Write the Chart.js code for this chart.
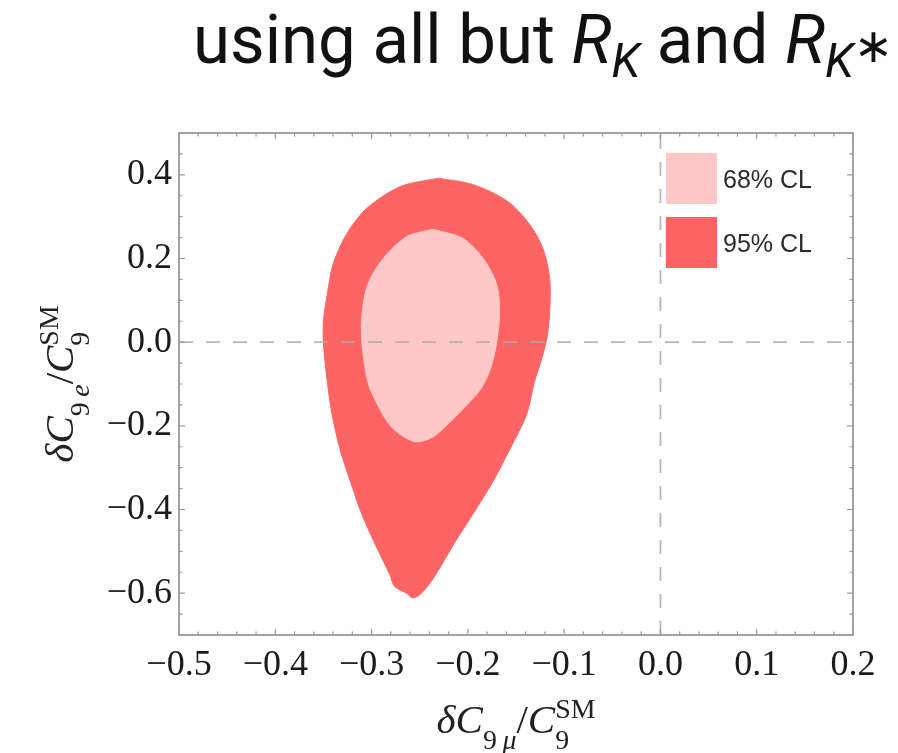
<!DOCTYPE html>
<html>
<head>
<meta charset="utf-8">
<script src="https://cdn.jsdelivr.net/npm/chart.js@4.4.0/dist/chart.umd.min.js"></script>
<style>
  html, body { margin: 0; padding: 0; background: #fff; }
</style>
</head>
<body>
<canvas id="chart" width="898" height="753"></canvas>
<script>
// Zakres osi i etykiety
const xRange = [-0.5, 0.2];
const yRange = [-0.7, 0.5];
const xTicks = [-0.5, -0.4, -0.3, -0.2, -0.1, 0.0, 0.1, 0.2];
const yTicks = [-0.6, -0.4, -0.2, 0.0, 0.2, 0.4];
const legendLabels = ['68% CL', '95% CL'];

// Kontur 95% CL
const cl95X = [-0.231, -0.195, -0.159, -0.136, -0.122, -0.115, -0.115, -0.118, -0.125, -0.131,
  -0.139, -0.156, -0.174, -0.195, -0.215, -0.236, -0.250, -0.258, -0.263, -0.276,
  -0.281, -0.294, -0.310, -0.322, -0.333, -0.341, -0.346, -0.350, -0.350, -0.346,
  -0.340, -0.326, -0.305, -0.270];
const cl95Y = [0.392, 0.377, 0.337, 0.282, 0.224, 0.152, 0.073, 0.009, -0.053, -0.096,
  -0.173, -0.254, -0.333, -0.412, -0.484, -0.565, -0.604, -0.611, -0.601, -0.584,
  -0.556, -0.494, -0.412, -0.333, -0.254, -0.173, -0.094, -0.003, 0.050, 0.114,
  0.186, 0.258, 0.320, 0.372];

// Kontur 68% CL
const cl68X = [-0.236, -0.205, -0.184, -0.170, -0.167, -0.170, -0.176, -0.186, -0.201, -0.219,
  -0.236, -0.255, -0.278, -0.294, -0.304, -0.310, -0.310, -0.304, -0.288, -0.263];
const cl68Y = [0.270, 0.248, 0.200, 0.138, 0.073, 0.000, -0.060, -0.110, -0.150, -0.192,
  -0.226, -0.238, -0.206, -0.149, -0.094, -0.003, 0.066, 0.138, 0.200, 0.253];

const color68 = '#ffc8c8';
const color95 = '#ff6464';

// Zamknięta ścieżka z dwóch tablic
function closedPath(xs, ys) {
  const pts = xs.map((x, i) => ({ x: x, y: ys[i] }));
  pts.push({ x: xs[0], y: ys[0] });
  return pts;
}

function fmtTick(v) {
  return Number(v).toFixed(1).replace('-', '\u2212');
}

// Tekst z indeksami dolnymi / górnymi
function layoutRich(ctx, parts, size, family) {
  let x = 0, prevStart = 0;
  const items = [];
  for (const p of parts) {
    const small = p.sub || p.sup;
    const s = size * (p.scale || (small ? 0.68 : 1));
    const font = (p.it ? 'italic ' : '') + s + 'px ' + family;
    ctx.font = font;
    const w = ctx.measureText(p.t).width;
    let start = x;
    if (p.over) {
      start = prevStart;
      x = Math.max(x, start + w);
    } else {
      prevStart = x;
      x += w;
    }
    let dy = p.sub ? 0.38 * size : p.sup ? -0.36 * size : 0;
    if (p.dy !== undefined) dy = p.dy * size;
    items.push({ t: p.t, font: font, x: start, dy: dy });
  }
  return { items: items, width: x };
}

function drawRich(ctx, lay, x0, y0) {
  ctx.textBaseline = 'alphabetic';
  ctx.textAlign = 'left';
  lay.items.forEach(it => {
    ctx.font = it.font;
    ctx.fillText(it.t, x0 + it.x, y0 + it.dy);
  });
}

const titleParts = [
  { t: 'using all but ' },
  { t: 'R', it: true },
  { t: 'K', it: true, scale: 0.7, dy: 0.2 },
  { t: ' and ' },
  { t: 'R', it: true },
  { t: 'K', it: true, scale: 0.7, dy: 0.2 },
  { t: '\u2217', scale: 0.7, dy: -0.02 }
];
const xTitleParts = [
  { t: '\u03B4', it: true }, { t: 'C', it: true },
  { t: '9', sub: true }, { t: '\u2009', sub: true }, { t: '\u03BC', it: true, sub: true },
  { t: '/' }, { t: 'C', it: true },
  { t: '9', sub: true }, { t: 'SM', sup: true, over: true }
];
const yTitleParts = [
  { t: '\u03B4', it: true }, { t: 'C', it: true },
  { t: '9', sub: true }, { t: '\u2009', sub: true }, { t: 'e', it: true, sub: true },
  { t: '/' }, { t: 'C', it: true },
  { t: '9', sub: true }, { t: 'SM', sup: true, over: true }
];

// Ramka, znaczniki, linie zerowe, legenda, tytuły
const decorPlugin = {
  id: 'decor',
  afterDatasetsDraw(chart) {
    const ctx = chart.ctx;
    const a = chart.chartArea;
    const xs = chart.scales.x, ys = chart.scales.y;
    ctx.save();

    // linie przerywane w zerze
    ctx.strokeStyle = 'rgba(170,170,170,0.85)';
    ctx.lineWidth = 1.8;
    ctx.setLineDash([14, 13]);
    const x0 = xs.getPixelForValue(0), y0 = ys.getPixelForValue(0);
    ctx.beginPath();
    ctx.moveTo(a.left, y0); ctx.lineTo(a.right, y0);
    ctx.moveTo(x0, a.bottom); ctx.lineTo(x0, a.top);
    ctx.stroke();
    ctx.setLineDash([]);

    // ramka
    ctx.strokeStyle = '#9a9a9a';
    ctx.lineWidth = 1.8;
    ctx.strokeRect(a.left, a.top, a.right - a.left, a.bottom - a.top);

    // znaczniki do wewnątrz
    ctx.lineWidth = 1.2;
    ctx.beginPath();
    for (let i = 0; i <= 35; i++) {
      const v = xRange[0] + i * 0.02;
      const px = xs.getPixelForValue(v);
      const len = i % 5 === 0 ? 6 : 3.5;
      ctx.moveTo(px, a.bottom); ctx.lineTo(px, a.bottom - len);
      ctx.moveTo(px, a.top); ctx.lineTo(px, a.top + len);
    }
    for (let i = 0; i <= 24; i++) {
      const v = yRange[0] + i * 0.05;
      const py = ys.getPixelForValue(v);
      const len = (i + 2) % 4 === 0 ? 6 : 3.5;
      ctx.moveTo(a.left, py); ctx.lineTo(a.left + len, py);
      ctx.moveTo(a.right, py); ctx.lineTo(a.right - len, py);
    }
    ctx.stroke();

    // legenda
    const swatch = [color68, color95];
    legendLabels.forEach((lab, i) => {
      const sx = a.right - 187, sy = a.top + 20 + i * 64;
      ctx.fillStyle = swatch[i];
      ctx.fillRect(sx, sy, 51, 51);
      ctx.fillStyle = '#2a2a2a';
      ctx.font = '25px "Liberation Sans", Arial, sans-serif';
      ctx.textBaseline = 'middle';
      ctx.textAlign = 'left';
      ctx.fillText(lab, sx + 57, sy + 28);
    });

    // tytuł
    ctx.fillStyle = '#111';
    const tl = layoutRich(ctx, titleParts, 68, 'Roboto, "DejaVu Sans", sans-serif');
    const sxScale = 700 / tl.width;
    ctx.save();
    ctx.translate(193, 63);
    ctx.scale(sxScale, 1);
    drawRich(ctx, tl, 0, 0);
    ctx.restore();

    // tytuły osi
    ctx.fillStyle = '#222';
    const serif = '"Liberation Serif", "Times New Roman", serif';
    const xl = layoutRich(ctx, xTitleParts, 41, serif);
    drawRich(ctx, xl, (a.left + a.right) / 2 - xl.width / 2, 733);

    const yl = layoutRich(ctx, yTitleParts, 41, serif);
    ctx.save();
    ctx.translate(73, (a.top + a.bottom) / 2);
    ctx.rotate(-Math.PI / 2);
    drawRich(ctx, yl, -yl.width / 2, 0);
    ctx.restore();

    ctx.restore();
  }
};

const tickFont = { family: '"Liberation Serif", "Times New Roman", serif', size: 36 };

new Chart(document.getElementById('chart').getContext('2d'), {
  type: 'scatter',
  data: {
    datasets: [{
      label: legendLabels[0],
      data: closedPath(cl68X, cl68Y),
      showLine: true,
      borderColor: color68,
      backgroundColor: color68,
      borderWidth: 1,
      pointRadius: 0,
      tension: 0.3,
      fill: 'shape'
    }, {
      label: legendLabels[1],
      data: closedPath(cl95X, cl95Y),
      showLine: true,
      borderColor: color95,
      backgroundColor: color95,
      borderWidth: 1,
      pointRadius: 0,
      tension: 0.3,
      fill: 'shape'
    }]
  },
  options: {
    responsive: false,
    animation: false,
    layout: { padding: { top: 133, right: 45, bottom: 0, left: 0 } },
    plugins: {
      legend: { display: false },
      tooltip: { enabled: false },
      title: { display: false }
    },
    scales: {
      x: {
        type: 'linear',
        min: xRange[0],
        max: xRange[1],
        afterBuildTicks: (scale) => { scale.ticks = xTicks.map(v => ({ value: v })); },
        afterFit: (scale) => { scale.height = 118; },
        grid: { display: false, drawTicks: false },
        border: { display: false },
        ticks: {
          autoSkip: false,
          maxRotation: 0,
          padding: 9,
          color: '#1a1a1a',
          font: tickFont,
          callback: (v) => fmtTick(v)
        }
      },
      y: {
        type: 'linear',
        min: yRange[0],
        max: yRange[1],
        afterBuildTicks: (scale) => { scale.ticks = yTicks.map(v => ({ value: v })); },
        afterFit: (scale) => { scale.width = 179; },
        grid: { display: false, drawTicks: false },
        border: { display: false },
        ticks: {
          autoSkip: false,
          padding: 7,
          color: '#1a1a1a',
          font: tickFont,
          callback: (v) => fmtTick(v)
        }
      }
    }
  },
  plugins: [decorPlugin]
});
</script>
</body>
</html>
